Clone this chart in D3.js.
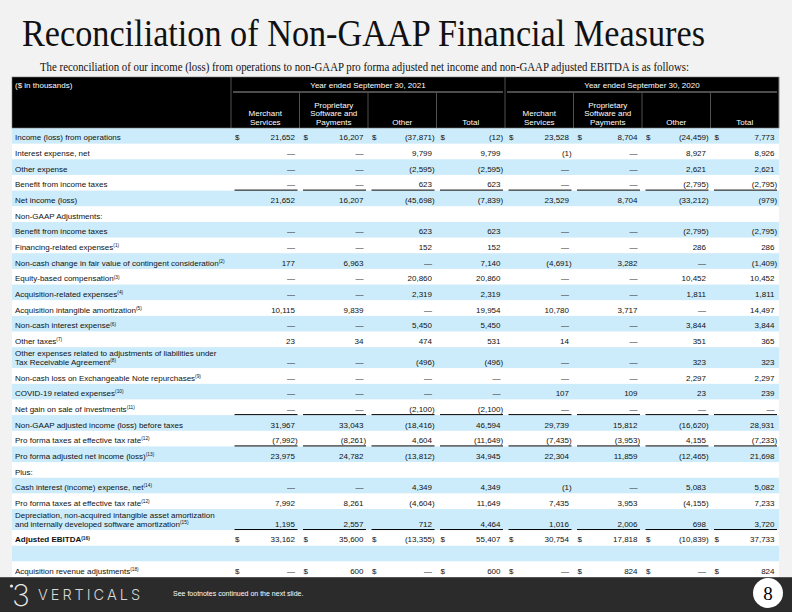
<!DOCTYPE html>
<html><head><meta charset="utf-8">
<script src="https://cdn.jsdelivr.net/npm/d3@7"></script>
<style>
html,body{margin:0;padding:0;background:#f2f2f2;}
svg{display:block;}
</style>
</head><body>
<svg id="c" width="792" height="612"></svg>
<script>
const D = null, B = "";
const title = "Reconciliation of Non-GAAP Financial Measures";
const subtitle = "The reconciliation of our income (loss) from operations to non-GAAP pro forma adjusted net income and non-GAAP adjusted EBITDA is as follows:";
const unitsLabel = "($ in thousands)";
const groups = ["Year ended September 30, 2021", "Year ended September 30, 2020"];
const segments = ["Merchant\nServices", "Proprietary\nSoftware and\nPayments", "Other", "Total"];
const rowLabels = [
  "Income (loss) from operations", "Interest expense, net", "Other expense", "Benefit from income taxes",
  "Net income (loss)", "Non-GAAP Adjustments:", "Benefit from income taxes", "Financing-related expenses",
  "Non-cash change in fair value of contingent consideration", "Equity-based compensation",
  "Acquisition-related expenses", "Acquisition intangible amortization", "Non-cash interest expense",
  "Other taxes", "Other expenses related to adjustments of liabilities under\nTax Receivable Agreement",
  "Non-cash loss on Exchangeable Note repurchases", "COVID-19 related expenses",
  "Net gain on sale of investments", "Non-GAAP adjusted income (loss) before taxes",
  "Pro forma taxes at effective tax rate", "Pro forma adjusted net income (loss)", "Plus:",
  "Cash interest (income) expense, net", "Pro forma taxes at effective tax rate",
  "Depreciation, non-acquired intangible asset amortization\nand internally developed software amortization",
  "Adjusted EBITDA", "", "Acquisition revenue adjustments"
];
const rowNotes = ["", "", "", "", "", "", "", "(1)", "(2)", "(3)", "(4)", "(5)", "(6)", "(7)", "(8)", "(9)",
  "(10)", "(11)", "", "(12)", "(13)", "", "(14)", "(12)", "(15)", "(16)", "", "(18)"];
const merchant2021 = [21652, D, D, D, 21652, B, D, D, 177, D, D, 10115, D, 23, D, D, D, D, 31967, -7992, 23975, B, D, 7992, 1195, 33162, B, D];
const proprietary2021 = [16207, D, D, D, 16207, B, D, D, 6963, D, D, 9839, D, 34, D, D, D, D, 33043, -8261, 24782, B, D, 8261, 2557, 35600, B, 600];
const other2021 = [-37871, 9799, -2595, 623, -45698, B, 623, 152, D, 20860, 2319, D, 5450, 474, -496, D, D, -2100, -18416, 4604, -13812, B, 4349, -4604, 712, -13355, B, D];
const total2021 = [-12, 9799, -2595, 623, -7839, B, 623, 152, 7140, 20860, 2319, 19954, 5450, 531, -496, D, D, -2100, 46594, -11649, 34945, B, 4349, 11649, 4464, 55407, B, 600];
const merchant2020 = [23528, -1, D, D, 23529, B, D, D, -4691, D, D, 10780, D, 14, D, D, 107, D, 29739, -7435, 22304, B, -1, 7435, 1016, 30754, B, D];
const proprietary2020 = [8704, D, D, D, 8704, B, D, D, 3282, D, D, 3717, D, D, D, D, 109, D, 15812, -3953, 11859, B, D, 3953, 2006, 17818, B, 824];
const other2020 = [-24459, 8927, 2621, -2795, -33212, B, -2795, 286, D, 10452, 1811, D, 3844, 351, 323, 2297, 23, D, -16620, 4155, -12465, B, 5083, -4155, 698, -10839, B, D];
const total2020 = [7773, 8926, 2621, -2795, -979, B, -2795, 286, -1409, 10452, 1811, 14497, 3844, 365, 323, 2297, 239, D, 28931, -7233, 21698, B, 5082, 7233, 3720, 37733, B, 824];
const dollarRows = [0, 25, 27];
const underlineRows = [3, 17, 19, 24];
const boldRows = [25];
const footnoteText = "See footnotes continued on the next slide.";
const pageNumber = "8";

const series = [merchant2021, proprietary2021, other2021, total2021, merchant2020, proprietary2020, other2020, total2020];
const colIds = d3.range(series.length);

const svg = d3.select("#c");
const W = 792, H = 612;
const tableL = 12, tableR = 779, labelEnd = 231;
const headTop = 77, groupLineY = 92, headBot = 128, tableBot = 577;
const sans = "'Liberation Sans', Arial, Helvetica, sans-serif";
const serif = "'Liberation Serif', 'Times New Roman', serif";

svg.append("rect").attr("width", W).attr("height", H).attr("fill", "#f2f2f2");

// Title
svg.append("text").attr("x", 22).attr("y", 46).attr("font-family", serif).attr("font-size", 37)
  .attr("fill", "#111").attr("textLength", 683).attr("lengthAdjust", "spacingAndGlyphs").text(title);
svg.append("text").attr("x", 40).attr("y", 71).attr("font-family", serif).attr("font-size", 12)
  .attr("fill", "#111").attr("textLength", 649).attr("lengthAdjust", "spacingAndGlyphs").text(subtitle);

// scales
const x = d3.scaleBand().domain(colIds).range([labelEnd, tableR]);
const units = rowLabels.map(l => l.includes("\n") ? 1.34 : 1);
const cum = [0, ...d3.cumsum(units)];
const y = d3.scaleLinear().domain([0, cum[cum.length - 1]]).range([headBot, tableBot]);
const rowTop = i => y(cum[i]);
const rowBot = i => y(cum[i + 1]);

// rows
const rows = svg.append("g");
rowLabels.forEach((lab, i) => {
  rows.append("rect").attr("x", tableL).attr("y", rowTop(i)).attr("width", tableR - tableL)
    .attr("height", rowBot(i) - rowTop(i) + 0.3).attr("fill", i % 2 === 0 ? "#cdecfb" : "#ffffff");
});

// header
const head = svg.append("g");
head.append("rect").attr("x", tableL).attr("y", headTop).attr("width", tableR - tableL)
  .attr("height", headBot - headTop).attr("fill", "#000").attr("stroke", "#777").attr("stroke-width", 0.6);
head.append("text").attr("x", 15).attr("y", 88).attr("fill", "#fff").attr("font-family", sans)
  .attr("font-size", 8).text(unitsLabel);
groups.forEach((g, gi) => {
  const x0 = x(gi * 4), x1 = x(gi * 4 + 3) + x.bandwidth();
  head.append("text").attr("x", (x0 + x1) / 2).attr("y", 88).attr("text-anchor", "middle")
    .attr("fill", "#fff").attr("font-family", sans).attr("font-size", 8).text(g);
  head.append("line").attr("x1", x0 + 2).attr("x2", x1 - 2).attr("y1", groupLineY).attr("y2", groupLineY)
    .attr("stroke", "#999").attr("stroke-width", 1.2);
  head.append("line").attr("x1", x0).attr("x2", x0).attr("y1", headTop).attr("y2", headBot)
    .attr("stroke", "#888").attr("stroke-width", 0.6);
});
head.append("line").attr("x1", tableR).attr("x2", tableR).attr("y1", headTop).attr("y2", headBot)
  .attr("stroke", "#888").attr("stroke-width", 0.6);
colIds.forEach(c => {
  const cx = x(c) + x.bandwidth() / 2;
  if (c % 4 !== 0) {
    head.append("line").attr("x1", x(c)).attr("x2", x(c)).attr("y1", groupLineY + 1).attr("y2", headBot)
      .attr("stroke", "#888").attr("stroke-width", 0.6);
  }
  const lines = segments[c % 4].split("\n");
  lines.forEach((ln, li) => {
    head.append("text").attr("x", cx).attr("y", 124.5 - (lines.length - 1 - li) * 8.5)
      .attr("text-anchor", "middle").attr("fill", "#fff").attr("font-family", sans)
      .attr("font-size", 8).text(ln);
  });
});

// labels
const fmt = d3.format(",");
rowLabels.forEach((lab, i) => {
  const lines = lab.split("\n");
  const base = rowBot(i) - 3.2;
  lines.forEach((ln, li) => {
    const t = rows.append("text").attr("x", 15).attr("y", base - (lines.length - 1 - li) * 8.8)
      .attr("font-family", sans).attr("font-size", 8).attr("fill", "#111")
      .attr("font-weight", boldRows.includes(i) ? "bold" : "normal").text(ln);
    if (li === lines.length - 1 && rowNotes[i]) {
      t.append("tspan").attr("font-size", 4.8).attr("dy", -2.8).text(rowNotes[i]);
    }
  });
  // values
  series.forEach((s, c) => {
    const v = s[i];
    if (v === "") return;
    const xr = x(c) + x.bandwidth() - 4.5;
    let txt, xe = xr;
    if (v === null) txt = "\u2014";
    else if (v < 0) { txt = "(" + fmt(-v) + ")"; xe = xr + 2.7; }
    else txt = fmt(v);
    rows.append("text").attr("x", xe).attr("y", base).attr("text-anchor", "end")
      .attr("font-family", sans).attr("font-size", 8).attr("fill", "#111").text(txt);
    if (dollarRows.includes(i)) {
      rows.append("text").attr("x", x(c) + 4).attr("y", base)
        .attr("font-family", sans).attr("font-size", 8).attr("fill", "#111").text("$");
    }
    if (underlineRows.includes(i)) {
      rows.append("line").attr("x1", x(c) + 3.5).attr("x2", x(c) + x.bandwidth() - 2)
        .attr("y1", rowBot(i) - 0.5).attr("y2", rowBot(i) - 0.5).attr("stroke", "#000").attr("stroke-width", 1);
    }
  });
});

// footer
const foot = svg.append("g");
foot.append("rect").attr("x", 0).attr("y", tableBot).attr("width", W).attr("height", H - tableBot).attr("fill", "#2b2b2b");
foot.append("line").attr("x1", 0).attr("x2", W).attr("y1", tableBot + 0.5).attr("y2", tableBot + 0.5).attr("stroke", "#555");
foot.append("circle").attr("cx", 11.5).attr("cy", 586).attr("r", 1.6).attr("fill", "#e8e8e8");
foot.append("text").attr("x", 12).attr("y", 606).attr("font-family", "Inter, 'DejaVu Sans', sans-serif")
  .attr("font-weight", 200).attr("font-size", 30).attr("fill", "#e8e8e8").text("3");
foot.append("text").attr("x", 38).attr("y", 600).attr("font-family", "Inter, 'DejaVu Sans', sans-serif")
  .attr("font-weight", 300).attr("font-size", 14.5).attr("letter-spacing", 3).attr("fill", "#d8d8d8").text("VERTICALS");
foot.append("text").attr("x", 173).attr("y", 595.5).attr("font-family", sans).attr("font-size", 7)
  .attr("fill", "#fff").text(footnoteText);
foot.append("circle").attr("cx", 768).attr("cy", 593).attr("r", 15).attr("fill", "#fff");
foot.append("text").attr("x", 768).attr("y", 599.5).attr("text-anchor", "middle").attr("font-family", serif)
  .attr("font-size", 19).attr("fill", "#000").text(pageNumber);
</script>
</body></html>
